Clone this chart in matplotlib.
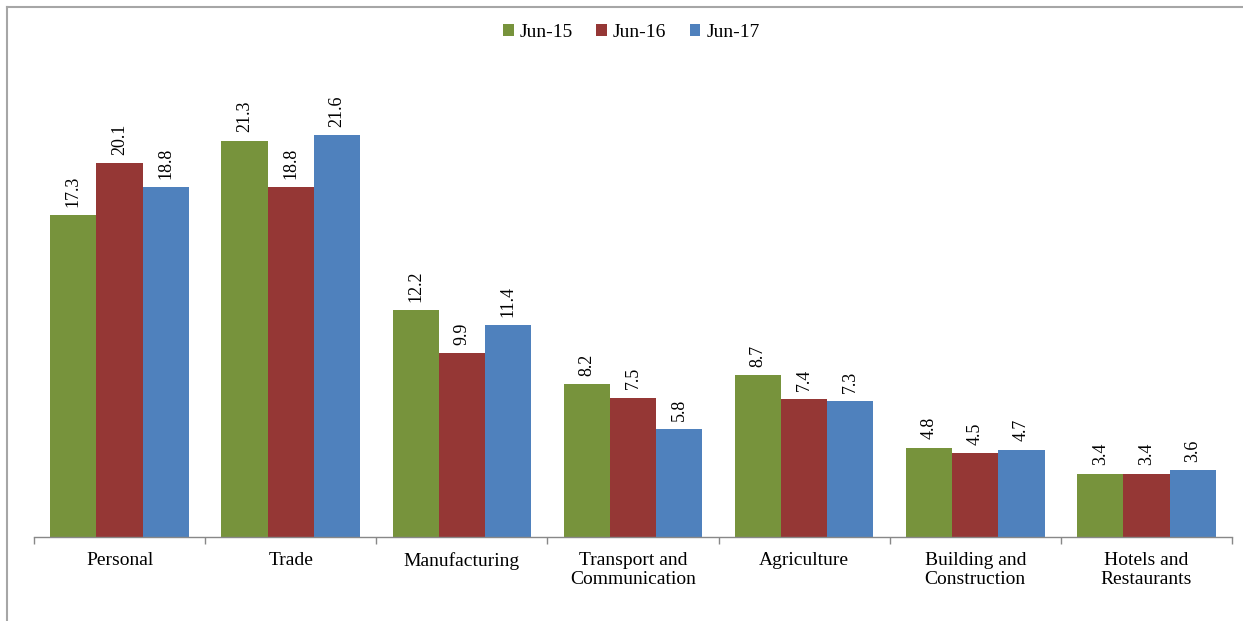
import matplotlib
matplotlib.use("Agg")
import matplotlib.pyplot as plt
from matplotlib.lines import Line2D
import numpy as np

plt.rcParams["font.family"] = ["Liberation Serif", "DejaVu Serif"]

categories = ["Personal", "Trade", "Manufacturing", "Transport and\nCommunication",
              "Agriculture", "Building and\nConstruction", "Hotels and\nRestaurants"]
jun15 = [17.3, 21.3, 12.2, 8.2, 8.7, 4.8, 3.4]
jun16 = [20.1, 18.8, 9.9, 7.5, 7.4, 4.5, 3.4]
jun17 = [18.8, 21.6, 11.4, 5.8, 7.3, 4.7, 3.6]
series_names = ["Jun-15", "Jun-16", "Jun-17"]
colors = ["#77933C", "#953735", "#4F81BD"]

W, H = 1243, 621
fig = plt.figure(figsize=(W / 100, H / 100), dpi=100)

# axes placement in pixels
x0, x1 = 34, 1232
ybase = 537
ymax = 24
ppu = 18.6
ytop = ybase - ymax * ppu
ax = fig.add_axes([x0 / W, (H - ybase) / H, (x1 - x0) / W, (ybase - ytop) / H])

x = np.arange(len(categories))
bw = 0.27
for i, (vals, name, c) in enumerate(zip([jun15, jun16, jun17], series_names, colors)):
    pos = x + (i - 1) * bw
    ax.bar(pos, vals, width=bw, color=c, label=name, edgecolor="none")
    for p, v in zip(pos, vals):
        ax.annotate(f"{v:.1f}", (p, v), xytext=(0, 6), textcoords="offset points",
                    rotation=90, ha="center", va="bottom", fontsize=13)

ax.set_xlim(-0.5, len(categories) - 0.5)
ax.set_ylim(0, ymax)
for s in ["top", "right", "left"]:
    ax.spines[s].set_visible(False)
ax.spines["bottom"].set_color("#888888")
ax.spines["bottom"].set_linewidth(1.0)
ax.set_yticks([])
ax.set_xticks(np.arange(len(categories) + 1) - 0.5)
ax.set_xticklabels([])
ax.tick_params(axis="x", length=5, color="#888888", width=1.0)
ax.set_xticks(x, minor=True)
ax.set_xticklabels(categories, minor=True, fontsize=14, linespacing=1.15)
ax.tick_params(axis="x", which="minor", length=0, pad=11)

fig.legend(loc="upper center", bbox_to_anchor=(0.508, 0.99), ncol=3, frameon=False,
           fontsize=14, handlelength=0.55, handleheight=0.55, handletextpad=0.3,
           columnspacing=1.2)

# outer frame (top and left edges)
fig.add_artist(Line2D([7 / W, 1], [1 - 7 / H, 1 - 7 / H], transform=fig.transFigure,
                      color="#A6A6A6", linewidth=1.5))
fig.add_artist(Line2D([7 / W, 7 / W], [0, 1 - 7 / H], transform=fig.transFigure,
                      color="#A6A6A6", linewidth=1.5))

fig.savefig("out.png", dpi=100)
